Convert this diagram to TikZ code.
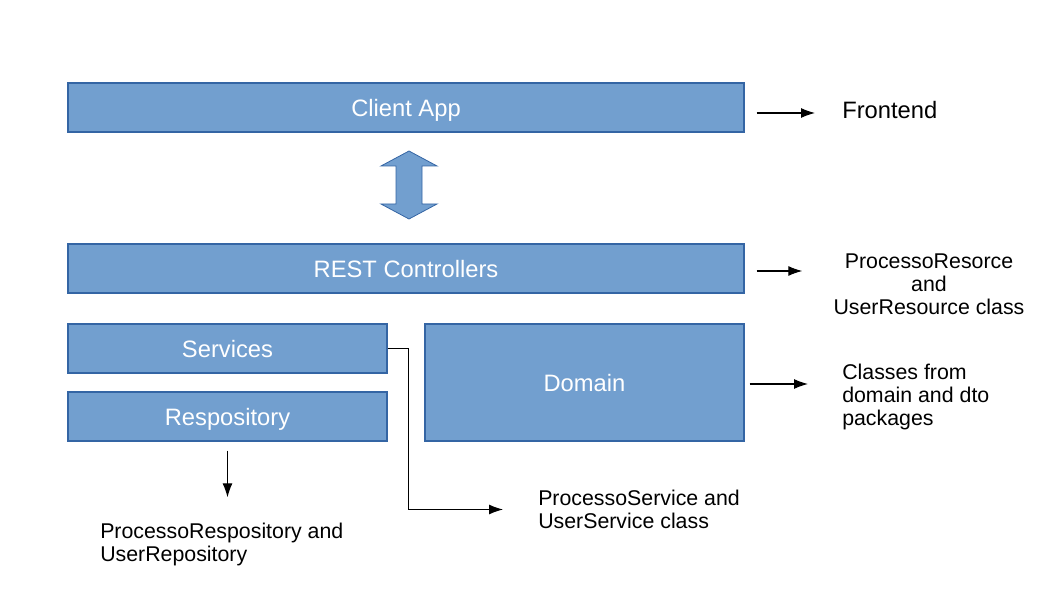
\documentclass[tikz,border=0pt]{standalone}
\usepackage{fontspec}
\setmainfont{Liberation Sans}
\usetikzlibrary{arrows.meta}
\definecolor{boxfill}{HTML}{729FCF}
\definecolor{boxline}{HTML}{3465A4}

\begin{document}
\begin{tikzpicture}[x=0.75pt, y=-0.75pt, block/.style={rectangle, draw=boxline, fill=boxfill, text=white, font=\fontsize{17.8}{20}\selectfont, inner sep=0pt, text height=14pt, text depth=0pt, line width=0.8pt}, note/.style={inner sep=0pt, font=\fontsize{16}{17.25}\selectfont}, line/.style={draw, -{Latex[length=10.5pt, width=7.5pt]}, line width=0.8pt}]
        \useasboundingbox (0,0) rectangle (1058,595);

        % Layers
        \node [block, minimum width=507pt, minimum height=36.75pt] (client) at (406,107.5) {Client App};
        \node [block, minimum width=507pt, minimum height=36.75pt] (rest) at (406,268.5) {REST Controllers};
        \node [block, minimum width=239.25pt, minimum height=36.75pt] (services) at (227.5,348.5) {Services};
        \node [block, minimum width=239.25pt, minimum height=36.75pt] (repo) at (227.5,416.5) {Respository};
        \node [block, minimum width=239.25pt, minimum height=87.75pt] (domain) at (584.5,382.5) {Domain};

        % Notes
        \node [note, anchor=west, font=\fontsize{17.8}{20}\selectfont] (frontend) at (842,110) {Frontend};
        \node [note, align=center] (resource) at (929,284) {ProcessoResorce\\and\\UserResource class};
        \node [note, align=left, anchor=west] (domaintext) at (842,397) {Classes from\\domain and dto\\packages};
        \node [note, align=left, anchor=west] (svctext) at (538,509.5) {ProcessoService and\\UserService class};
        \node [note, align=left, anchor=west] (repotext) at (100,544) {ProcessoRespository and\\UserRepository};

        % Double arrow
        \draw [draw=boxline, fill=boxfill, line width=0.6pt] (381,166) -- (409,151) -- (437,166) -- (422,166) -- (422,204) -- (437,204) -- (409,219) -- (381,204) -- (396,204) -- (396,166) -- cycle;

        % Arrows
        \path [line, shorten <=9pt, shorten >=20.25pt] (client.east |- 0,113) -- (frontend.west |- 0,113);
        \path [line, shorten <=9pt, shorten >=23.25pt] (rest.east |- 0,271) -- (resource.west |- 0,271);
        \path [line, shorten <=3.75pt, shorten >=25.5pt] (domain.east |- 0,384) -- (domaintext.west |- 0,384);
        \path [line, shorten >=26.25pt] (services.east) -- ++(21,0) |- (svctext.west);
        \path [line, shorten <=6.75pt, shorten >=18.75pt] (repo.south) -- (repo.south |- repotext.north);
\end{tikzpicture}
\end{document}
